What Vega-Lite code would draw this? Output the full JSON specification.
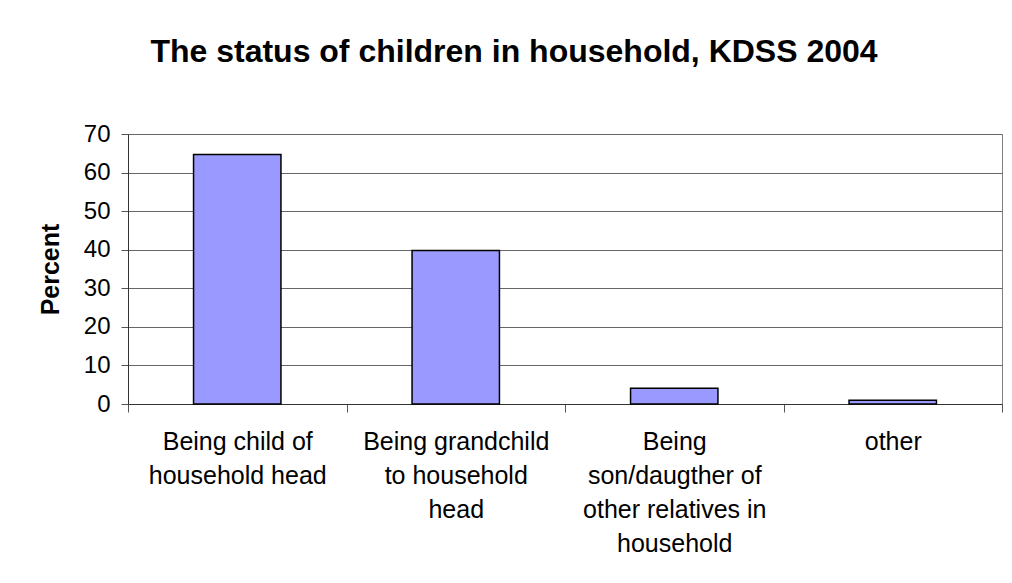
{
  "$schema": "https://vega.github.io/schema/vega-lite/v6.json",
  "autosize": "none",
  "width": 874,
  "height": 270,
  "padding": {"left": 128, "top": 134, "right": 10, "bottom": 179},
  "background": "white",
  "title": {
    "text": "The status of children in household, KDSS 2004",
    "font": "Liberation Sans",
    "fontSize": 32,
    "fontWeight": "bold",
    "color": "black",
    "anchor": "middle",
    "dx": -51,
    "offset": 53
  },
  "data": {
    "values": [
      {"status": "Being child of|household head", "percent": 64.7},
      {"status": "Being grandchild|to household|head", "percent": 39.8},
      {"status": "Being|son/daugther of|other relatives in|household", "percent": 4.1},
      {"status": "other", "percent": 1.0}
    ]
  },
  "mark": {"type": "bar", "fill": "#9999FF", "stroke": "black", "strokeWidth": 1.5, "width": {"band": 0.4}},
  "encoding": {
    "x": {
      "field": "status",
      "type": "nominal",
      "sort": null,
      "scale": {"paddingInner": 0, "paddingOuter": 0},
      "axis": {
        "title": null,
        "labelExpr": "split(datum.label, '|')",
        "labelAngle": 0,
        "labelAlign": "center",
        "labelFont": "Liberation Sans",
        "labelFontSize": 25,
        "labelColor": "black",
        "labelLineHeight": 34,
        "labelPadding": 17,
        "labelLimit": 400,
        "labelBound": false,
        "tickBand": "extent",
        "tickSize": 8,
        "tickColor": "#555555",
        "domainColor": "#333333",
        "grid": false
      }
    },
    "y": {
      "field": "percent",
      "type": "quantitative",
      "scale": {"domain": [0, 70]},
      "axis": {
        "title": "Percent",
        "titleFont": "Liberation Sans",
        "titleFontSize": 25,
        "titleFontWeight": "bold",
        "titleColor": "black",
        "titlePadding": 20,
        "values": [0, 10, 20, 30, 40, 50, 60, 70],
        "labelFont": "Liberation Sans",
        "labelFontSize": 24,
        "labelColor": "black",
        "labelPadding": 11,
        "tickSize": 7,
        "tickColor": "#555555",
        "domainColor": "#333333",
        "gridColor": "#666666",
        "grid": true
      }
    }
  },
  "config": {"view": {"stroke": "#808080"}}
}
